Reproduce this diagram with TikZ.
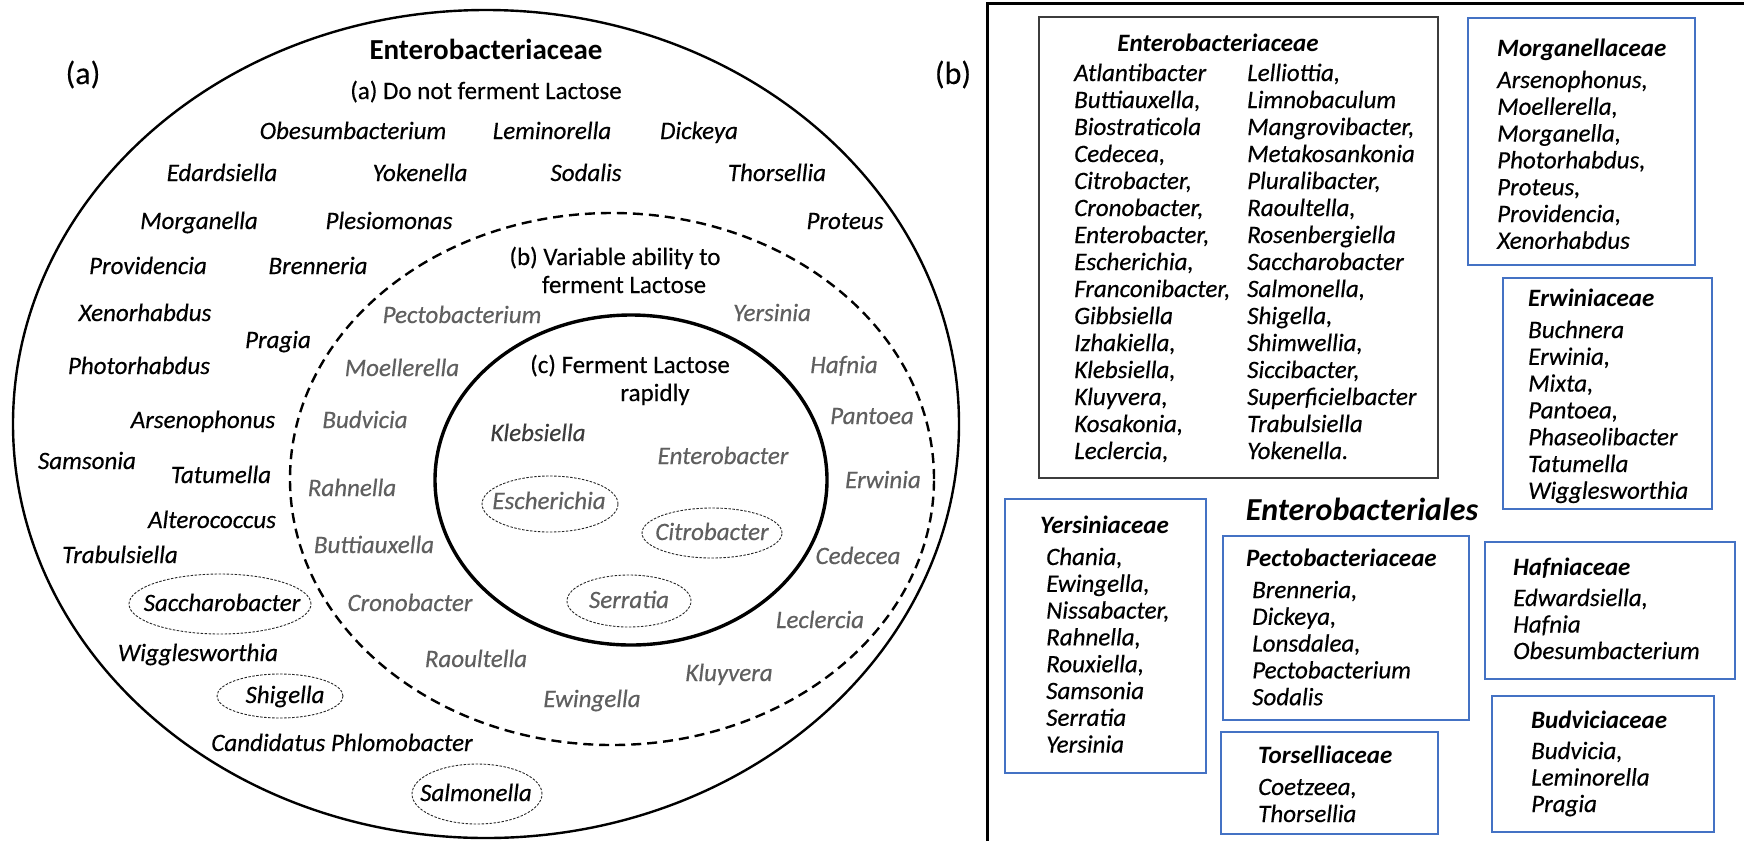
\documentclass[tikz,border=0pt]{standalone}
\usepackage{fontspec}
\setmainfont{Carlito}[ItalicFeatures={FakeBold=0.4}, UprightFeatures={FakeBold=0.3}]
\definecolor{vgray}{RGB}{95,95,95}
\definecolor{kgray}{RGB}{60,60,60}
\definecolor{boxblue}{RGB}{68,114,196}
\definecolor{boxgray}{RGB}{60,60,60}
\tikzset{
  lab/.style={inner sep=0pt, text height=17pt, text depth=5pt, font=\fontsize{25}{27}\selectfont},
  gen/.style={lab, font=\fontsize{25}{27}\selectfont\itshape},
  vg/.style={gen, text=vgray},
  ttl/.style={inner sep=0pt, text height=17pt, text depth=5pt, font=\fontsize{25}{27}\selectfont\bfseries\itshape, anchor=west},
  item/.style={gen, anchor=west},
  ovalline/.style={draw=black!85, line width=0.9pt, dash pattern=on 2.5pt off 1.5pt},
  fambox/.style={draw=boxblue, line width=1.5pt},
}
\begin{document}
\begin{tikzpicture}[x=1pt,y=-1pt]
\useasboundingbox (0,0) rectangle (1744,841);
% ---------- panel (a) ----------
\draw[line width=2.4pt] (486,424) ellipse [x radius=473pt, y radius=414pt];
\draw[line width=2.4pt, dash pattern=on 10pt off 6pt] (612,479) ellipse [x radius=322pt, y radius=266pt];
\draw[line width=3.4pt] (631,480) ellipse [x radius=196pt, y radius=165pt];

\node[lab, font=\fontsize{32}{34}\selectfont] (la) at (83,78) {(a)};
\node[lab, font=\fontsize{32}{34}\selectfont] (lb) at (953,78) {(b)};
\node[lab, font=\fontsize{29}{31}\selectfont\bfseries] (ent) at (486,53) {Enterobacteriaceae};
\node[lab] (ga) at (486,93) {(a) Do not ferment Lactose};
\node[lab] (gb1) at (615,259) {(b) Variable ability to};
\node[lab] (gb2) at (624,287) {ferment Lactose};
\node[lab] (gc1) at (630,367) {(c) Ferment Lactose};
\node[lab] (gc2) at (655,395) {rapidly};

% do not ferment
\node[gen] (n1) at (353,133) {Obesumbacterium};
\node[gen] (n2) at (552,133) {Leminorella};
\node[gen] (n3) at (699,133) {Dickeya};
\node[gen] (n4) at (222,175) {Edardsiella};
\node[gen] (n5) at (420,175) {Yokenella};
\node[gen] (n6) at (586,175) {Sodalis};
\node[gen] (n7) at (777,175) {Thorsellia};
\node[gen] (n8) at (199,223) {Morganella};
\node[gen] (n9) at (389,223) {Plesiomonas};
\node[gen] (n10) at (845,223) {Proteus};
\node[gen] (n11) at (148,268) {Providencia};
\node[gen] (n12) at (318,268) {Brenneria};
\node[gen] (n13) at (145,315) {Xenorhabdus};
\node[gen] (n14) at (278,342) {Pragia};
\node[gen] (n15) at (139,368) {Photorhabdus};
\node[gen] (n16) at (203,422) {Arsenophonus};
\node[gen] (n17) at (87,463) {Samsonia};
\node[gen] (n18) at (221,477) {Tatumella};
\node[gen] (n19) at (212,522) {Alterococcus};
\node[gen] (n20) at (120,557) {Trabulsiella};
\node[gen] (n21) at (222,605) {Saccharobacter};
\draw[ovalline] (220,604) ellipse [x radius=91pt, y radius=30pt];
\node[gen] (n22) at (198,655) {Wigglesworthia};
\node[gen] (n23) at (285,697) {Shigella};
\draw[ovalline] (280,696) ellipse [x radius=63pt, y radius=22pt];
\node[gen] (n24) at (342,745) {Candidatus Phlomobacter};
\node[gen] (n25) at (476,795) {Salmonella};
\draw[ovalline] (477,794) ellipse [x radius=65pt, y radius=30pt];

% variable
\node[vg] (v1) at (462,317) {Pectobacterium};
\node[vg] (v2) at (772,315) {Yersinia};
\node[vg] (v3) at (402,370) {Moellerella};
\node[vg] (v4) at (844,367) {Hafnia};
\node[vg] (v5) at (872,418) {Pantoea};
\node[vg] (v6) at (365,422) {Budvicia};
\node[vg] (v7) at (352,490) {Rahnella};
\node[vg] (v8) at (883,482) {Erwinia};
\node[vg] (v9) at (374,547) {Buttiauxella};
\node[vg] (v10) at (858,558) {Cedecea};
\node[vg] (v11) at (410,605) {Cronobacter};
\node[vg] (v12) at (820,622) {Leclercia};
\node[vg] (v13) at (476,661) {Raoultella};
\node[vg] (v14) at (729,675) {Kluyvera};
\node[vg] (v15) at (592,701) {Ewingella};

% rapid
\node[gen, text=kgray] (r1) at (538,435) {Klebsiella};
\node[vg] (r2) at (723,458) {Enterobacter};
\node[vg] (r3) at (549,503) {Escherichia};
\draw[ovalline] (550,504) ellipse [x radius=68pt, y radius=28pt];
\node[vg] (r4) at (712,534) {Citrobacter};
\draw[ovalline] (712,533) ellipse [x radius=70pt, y radius=25pt];
\node[vg] (r5) at (629,602) {Serratia};
\draw[ovalline] (629,601) ellipse [x radius=62pt, y radius=26pt];

% ---------- panel (b) ----------
\draw[line width=3pt] (987,841) -- (987,3) -- (1744,3);

% Enterobacteriaceae
\draw[draw=boxgray, line width=1.6pt] (1039,17) rectangle (1438,478);
\node[ttl, anchor=center] (t1) at (1218,45) {Enterobacteriaceae};
\foreach \t [count=\i from 0] in {Atlantibacter, {Buttiauxella,}, Biostraticola, {Cedecea,}, {Citrobacter,}, {Cronobacter,}, {Enterobacter,}, {Escherichia,}, {Franconibacter,}, Gibbsiella, {Izhakiella,}, {Klebsiella,}, {Kluyvera,}, {Kosakonia,}, {Leclercia,}}
  \node[item] (ea\i) at (1074,75+27*\i) {\t};
\foreach \t [count=\i from 0] in {{Lelliottia,}, Limnobaculum, {Mangrovibacter,}, Metakosankonia, {Pluralibacter,}, {Raoultella,}, Rosenbergiella, Saccharobacter, {Salmonella,}, {Shigella,}, {Shimwellia,}, {Siccibacter,}, Superficielbacter, Trabulsiella, Yokenella.}
  \node[item] (eb\i) at (1247,75+27*\i) {\t};

% Morganellaceae
\draw[fambox] (1468,18) rectangle (1695,265);
\node[ttl] (t2) at (1497,50) {Morganellaceae};
\foreach \t [count=\i from 0] in {{Arsenophonus,}, {Moellerella,}, {Morganella,}, {Photorhabdus,}, {Proteus,}, {Providencia,}, Xenorhabdus}
  \node[item] (mo\i) at (1497,82+26.8*\i) {\t};

% Erwiniaceae
\draw[fambox] (1503,278) rectangle (1712,509);
\node[ttl] (t3) at (1528,300) {Erwiniaceae};
\foreach \t [count=\i from 0] in {Buchnera, {Erwinia,}, {Mixta,}, {Pantoea,}, Phaseolibacter, Tatumella, Wigglesworthia}
  \node[item] (er\i) at (1528,332+26.8*\i) {\t};

% Enterobacteriales
\node[inner sep=0pt, font=\fontsize{32}{34}\selectfont\bfseries\itshape] (order) at (1362,509) {Enterobacteriales};

% Yersiniaceae
\draw[fambox] (1005,499) rectangle (1206,773);
\node[ttl] (t4) at (1040,527) {Yersiniaceae};
\foreach \t [count=\i from 0] in {{Chania,}, {Ewingella,}, {Nissabacter,}, {Rahnella,}, {Rouxiella,}, Samsonia, Serratia, Yersinia}
  \node[item] (ye\i) at (1046,559+26.8*\i) {\t};

% Pectobacteriaceae
\draw[fambox] (1223,536) rectangle (1469,720);
\node[ttl] (t5) at (1246,560) {Pectobacteriaceae};
\foreach \t [count=\i from 0] in {{Brenneria,}, {Dickeya,}, {Lonsdalea,}, Pectobacterium, Sodalis}
  \node[item] (pe\i) at (1252,592+26.8*\i) {\t};

% Torselliaceae
\draw[fambox] (1221,732) rectangle (1438,834);
\node[ttl] (t6) at (1258,757) {Torselliaceae};
\foreach \t [count=\i from 0] in {{Coetzeea,}, Thorsellia}
  \node[item] (to\i) at (1258,789+27*\i) {\t};

% Hafniaceae
\draw[fambox] (1485,542) rectangle (1735,679);
\node[ttl] (t7) at (1513,569) {Hafniaceae};
\foreach \t [count=\i from 0] in {{Edwardsiella,}, Hafnia, Obesumbacterium}
  \node[item] (ha\i) at (1513,600+26.5*\i) {\t};

% Budviciaceae
\draw[fambox] (1492,696) rectangle (1714,832);
\node[ttl] (t8) at (1531,722) {Budviciaceae};
\foreach \t [count=\i from 0] in {{Budvicia,}, Leminorella, Pragia}
  \node[item] (bu\i) at (1531,753+26.5*\i) {\t};
\end{tikzpicture}
\end{document}
